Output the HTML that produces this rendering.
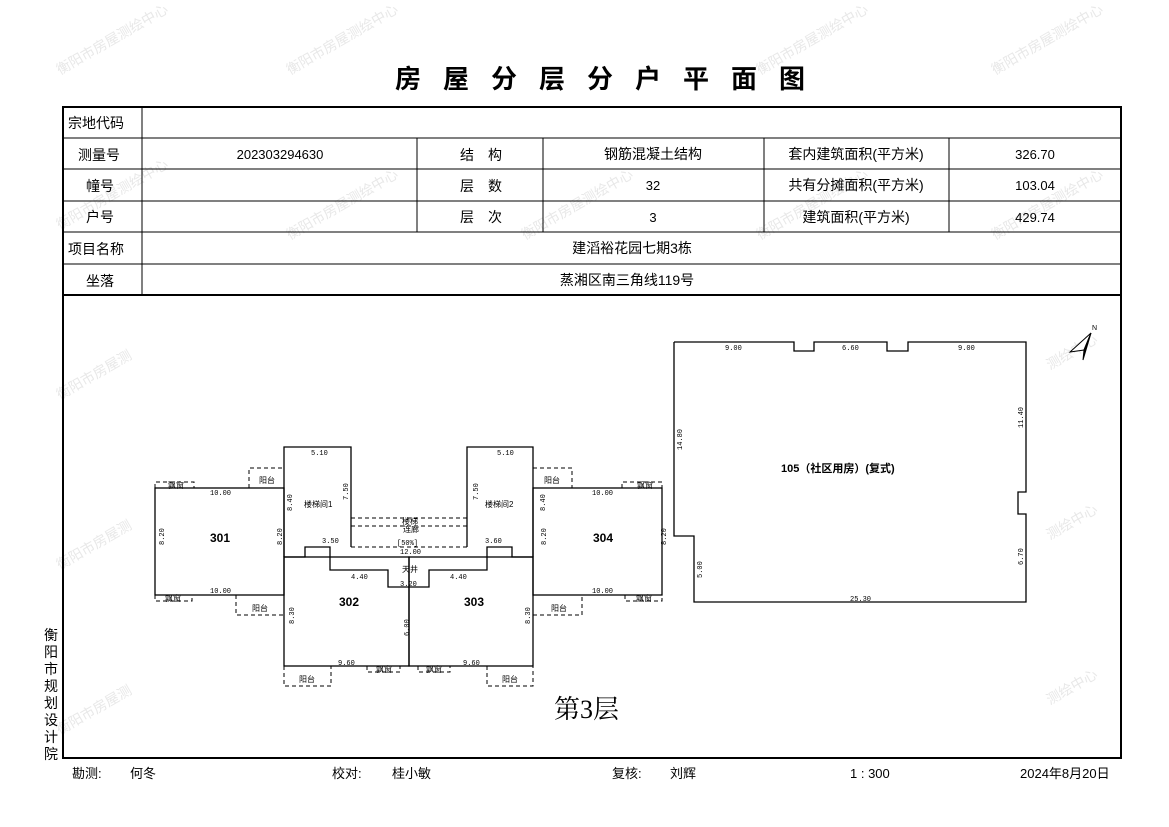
<!DOCTYPE html>
<html><head><meta charset="utf-8"><style>
html,body{margin:0;padding:0;background:#fff;}
svg{display:block;font-family:"Liberation Sans","Noto Sans CJK SC",sans-serif;}
</style></head><body>
<svg width="1169" height="827" viewBox="0 0 1169 827" xmlns="http://www.w3.org/2000/svg">
<rect width="1169" height="827" fill="#fff"/>
<g fill="#e8e8e8" font-size="14">
<text x="60" y="75" transform="rotate(-30 60 75)">衡阳市房屋测绘中心</text>
<text x="290" y="75" transform="rotate(-30 290 75)">衡阳市房屋测绘中心</text>
<text x="760" y="75" transform="rotate(-30 760 75)">衡阳市房屋测绘中心</text>
<text x="995" y="75" transform="rotate(-30 995 75)">衡阳市房屋测绘中心</text>
<text x="60" y="230" transform="rotate(-30 60 230)">衡阳市房屋测绘中心</text>
<text x="290" y="240" transform="rotate(-30 290 240)">衡阳市房屋测绘中心</text>
<text x="525" y="240" transform="rotate(-30 525 240)">衡阳市房屋测绘中心</text>
<text x="760" y="240" transform="rotate(-30 760 240)">衡阳市房屋测绘中心</text>
<text x="995" y="240" transform="rotate(-30 995 240)">衡阳市房屋测绘中心</text>
<text x="60" y="400" transform="rotate(-30 60 400)">衡阳市房屋测</text>
<text x="60" y="570" transform="rotate(-30 60 570)">衡阳市房屋测</text>
<text x="60" y="735" transform="rotate(-30 60 735)">衡阳市房屋测</text>
<text x="1050" y="370" transform="rotate(-30 1050 370)">测绘中心</text>
<text x="1050" y="540" transform="rotate(-30 1050 540)">测绘中心</text>
<text x="1050" y="705" transform="rotate(-30 1050 705)">测绘中心</text>
</g>
<text x="395" y="88" font-size="26" font-weight="bold" letter-spacing="22">房屋分层分户平面图</text>
<!-- table -->
<g stroke="#000" fill="none">
<rect x="63" y="107" width="1058" height="651" stroke-width="2"/>
<line x1="63" y1="295" x2="1121" y2="295" stroke-width="2"/>
<line x1="63" y1="138" x2="1121" y2="138"/>
<line x1="63" y1="169" x2="1121" y2="169"/>
<line x1="63" y1="201" x2="1121" y2="201"/>
<line x1="63" y1="232" x2="1121" y2="232"/>
<line x1="63" y1="264" x2="1121" y2="264"/>
<line x1="142" y1="107" x2="142" y2="295"/>
<line x1="417" y1="138" x2="417" y2="232"/>
<line x1="543" y1="138" x2="543" y2="232"/>
<line x1="764" y1="138" x2="764" y2="232"/>
<line x1="949" y1="138" x2="949" y2="232"/>
</g>
<g font-size="14" fill="#000">
<text x="68" y="128">宗地代码</text>
<text x="78" y="160">测量号</text>
<text x="86" y="191">幢号</text>
<text x="86" y="222">户号</text>
<text x="68" y="254">项目名称</text>
<text x="86" y="286">坐落</text>
<text x="280" y="159" text-anchor="middle" font-size="13">202303294630</text>
<text x="481" y="160" text-anchor="middle">结　构</text>
<text x="481" y="191" text-anchor="middle">层　数</text>
<text x="481" y="222" text-anchor="middle">层　次</text>
<text x="653" y="159" text-anchor="middle">钢筋混凝土结构</text>
<text x="653" y="190" text-anchor="middle" font-size="13">32</text>
<text x="653" y="222" text-anchor="middle" font-size="13">3</text>
<text x="856" y="159" text-anchor="middle">套内建筑面积(平方米)</text>
<text x="856" y="190" text-anchor="middle">共有分摊面积(平方米)</text>
<text x="856" y="222" text-anchor="middle">建筑面积(平方米)</text>
<text x="1035" y="159" text-anchor="middle" font-size="13">326.70</text>
<text x="1035" y="190" text-anchor="middle" font-size="13">103.04</text>
<text x="1035" y="222" text-anchor="middle" font-size="13">429.74</text>
<text x="632" y="253" text-anchor="middle">建滔裕花园七期3栋</text>
<text x="627" y="285" text-anchor="middle">蒸湘区南三角线119号</text>
</g>
<!-- plan left -->
<g stroke="#000" stroke-width="1.3" fill="none">
<rect x="155" y="488" width="129" height="107"/>
<rect x="533" y="488" width="129" height="107"/>
<polyline points="284,557 284,447 351,447 351,547"/>
<polyline points="533,557 533,447 467,447 467,547"/>
<polyline points="284,557 305,557 305,547 330,547 330,570 388,570 388,587 429,587 429,570 487,570 487,547 512,547 512,557 533,557"/>
<rect x="284" y="557" width="125" height="109"/>
<rect x="409" y="557" width="124" height="109"/>
</g>
<g stroke="#000" stroke-width="1" fill="none" stroke-dasharray="4,3">
<polyline points="155,488 155,482 194,482 194,488"/>
<polyline points="249,488 249,468 284,468"/>
<polyline points="351,518 467,518"/><polyline points="351,526 467,526"/><polyline points="351,547 467,547"/>
<polyline points="533,468 572,468 572,488"/>
<polyline points="622,488 622,482 662,482 662,488"/>
<polyline points="155,595 155,601 192,601 192,595"/>
<polyline points="236,595 236,615 284,615"/>
<polyline points="533,615 582,615 582,595"/>
<polyline points="625,595 625,601 662,601 662,595"/>
<polyline points="284,666 284,686 331,686 331,666"/>
<polyline points="367,666 367,672 400,672 400,666"/>
<polyline points="418,666 418,672 450,672 450,666"/>
<polyline points="487,666 487,686 533,686 533,666"/>
</g>
<g font-size="7" fill="#000" font-family="Liberation Mono,monospace">
<text x="210" y="495">10.00</text><text x="210" y="593">10.00</text>
<text x="592" y="495">10.00</text><text x="592" y="593">10.00</text>
<text x="311" y="455">5.10</text><text x="497" y="455">5.10</text>
<text x="322" y="543">3.50</text><text x="485" y="543">3.60</text>
<text x="400" y="554">12.00</text><text x="351" y="579">4.40</text><text x="450" y="579">4.40</text>
<text x="400" y="586">3.20</text><text x="338" y="665">9.60</text><text x="463" y="665">9.60</text>
<text x="397" y="545">[50%]</text>
</g>
<g font-size="8" fill="#000">
<text x="304" y="507">楼梯间1</text><text x="485" y="507">楼梯间2</text>
<text x="402" y="524">楼梯</text><text x="403" y="532">连廊</text>
<text x="402" y="572">天井</text>
<text x="259" y="483">阳台</text><text x="544" y="483">阳台</text>
<text x="252" y="611">阳台</text><text x="551" y="611">阳台</text>
<text x="299" y="682">阳台</text><text x="502" y="682">阳台</text>
<text x="168" y="488">飘窗</text><text x="637" y="488">飘窗</text>
<text x="165" y="601">飘窗</text><text x="636" y="601">飘窗</text>
<text x="376" y="672">飘窗</text><text x="426" y="672">飘窗</text>
</g>
<g font-size="12" font-weight="bold" fill="#000">
<text x="210" y="542">301</text><text x="593" y="542">304</text>
<text x="339" y="606">302</text><text x="464" y="606">303</text>
</g>
<g font-size="7" fill="#000" font-family="Liberation Mono,monospace">
<text transform="translate(164,545) rotate(-90)">8.20</text>
<text transform="translate(282,545) rotate(-90)">8.20</text>
<text transform="translate(546,545) rotate(-90)">8.20</text>
<text transform="translate(666,545) rotate(-90)">8.20</text>
<text transform="translate(292,511) rotate(-90)">8.40</text>
<text transform="translate(348,500) rotate(-90)">7.50</text>
<text transform="translate(478,500) rotate(-90)">7.50</text>
<text transform="translate(545,511) rotate(-90)">8.40</text>
<text transform="translate(294,624) rotate(-90)">8.30</text>
<text transform="translate(409,636) rotate(-90)">6.00</text>
<text transform="translate(530,624) rotate(-90)">8.30</text>
</g>
<!-- right building -->
<polyline fill="none" stroke="#000" stroke-width="1.3" points="674,342 794,342 794,351 814,351 814,342 887,342 887,351 908,351 908,342 1026,342 1026,492 1018,492 1018,514 1026,514 1026,602 694,602 694,536 674,536 674,342"/>
<g font-size="7" fill="#000" font-family="Liberation Mono,monospace">
<text x="725" y="350">9.00</text><text x="842" y="350">6.60</text><text x="958" y="350">9.00</text>
<text x="850" y="601">25.30</text>
<text transform="translate(682,450) rotate(-90)">14.80</text>
<text transform="translate(1023,428) rotate(-90)">11.40</text>
<text transform="translate(1023,565) rotate(-90)">6.70</text>
<text transform="translate(702,578) rotate(-90)">5.00</text>
</g>
<text x="781" y="472" font-size="11" font-weight="bold">105（社区用房）(复式)</text>
<!-- north arrow -->
<polygon points="1091,333 1070,352 1084,350" fill="#fff" stroke="#000"/>
<polygon points="1091,333 1084,350 1083,360" fill="#000" stroke="#000"/>
<text x="1092" y="330" font-size="7">N</text>
<text x="554" y="718" font-size="26" font-family="Liberation Serif,'Noto Serif CJK SC',serif">第3层</text>
<g font-size="14" fill="#000">
<text x="44" y="640">衡</text><text x="44" y="657">阳</text><text x="44" y="674">市</text><text x="44" y="691">规</text><text x="44" y="708">划</text><text x="44" y="725">设</text><text x="44" y="742">计</text><text x="44" y="759">院</text>
</g>
<g font-size="13" fill="#000">
<text x="72" y="778">勘测:</text><text x="130" y="778">何冬</text>
<text x="332" y="778">校对:</text><text x="392" y="778">桂小敏</text>
<text x="612" y="778">复核:</text><text x="670" y="778">刘辉</text>
<text x="850" y="778">1 : 300</text>
<text x="1020" y="778">2024年8月20日</text>
</g>
</svg>
</body></html>
